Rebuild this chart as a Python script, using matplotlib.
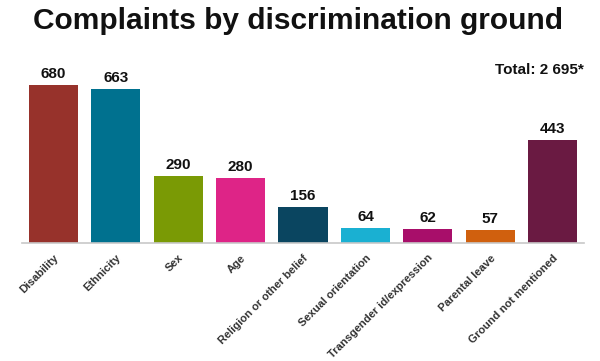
import matplotlib
matplotlib.use("Agg")
import matplotlib.pyplot as plt

categories = ["Disability", "Ethnicity", "Sex", "Age", "Religion or other belief",
              "Sexual orientation", "Transgender id/expression", "Parental leave",
              "Ground not mentioned"]
values = [680, 663, 290, 280, 156, 64, 62, 57, 443]
colors = ["#97322B", "#00718F", "#7A9A05", "#DE2487", "#0A4560",
          "#1AB0D2", "#A80E6A", "#D0600E", "#6A1A42"]
title = "Complaints by discrimination ground"
total_label = "Total: 2 695*"

plt.rcParams['font.family'] = ['Liberation Sans', 'DejaVu Sans']

fig = plt.figure(figsize=(6, 3.61), dpi=100)
ax = fig.add_axes([22/600, 1 - 243/361, 562/600, 188/361])

x = range(len(categories))
bars = ax.bar(x, values, width=0.785, color=colors)
ax.set_xlim(-0.5, len(categories) - 0.5)
ax.set_ylim(0, 809)

for xi, v in zip(x, values):
    ax.text(xi, v + 16, str(v), ha='center', va='bottom', fontsize=11,
            fontweight='bold', color='#111111')

for s in ['top', 'right', 'left']:
    ax.spines[s].set_visible(False)
ax.spines['bottom'].set_color('#C8C8C8')
ax.spines['bottom'].set_linewidth(1.2)
ax.set_yticks([])
ax.set_xticks(list(x))
ax.set_xticklabels(categories, rotation=45, ha='right', rotation_mode='anchor',
                   fontsize=8, fontweight='bold', color='#333333')
ax.tick_params(axis='x', length=0, pad=7)

fig.text(33/600, 1 - 21/361, title, fontsize=21.5, fontweight='bold',
         ha='left', va='center', color='#111111')
fig.text(584/600, 1 - 70/361, total_label, fontsize=11, fontweight='bold',
         ha='right', va='center', color='#111111')

fig.savefig("out.png", dpi=100)
